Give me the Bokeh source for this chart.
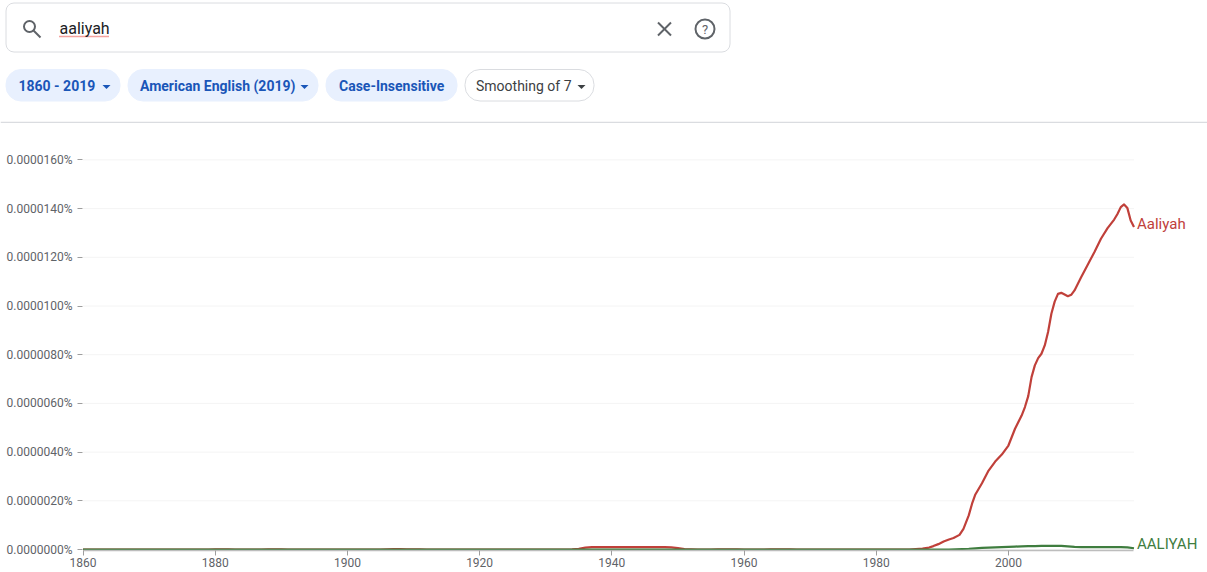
from bokeh.plotting import figure
from bokeh.layouts import column
from bokeh.models import BoxAnnotation, Label, FixedTicker, Range1d, Span
from bokeh.embed import file_html
from bokeh.resources import INLINE

# Values are in units of 0.000001 percent (1.0 = 0.0000010%)
years = list(range(1860, 2020))
aaliyah_early = [
    0.00,0.00,0.00,0.00,0.00,0.00,0.00,0.00,0.00,0.00,   # 1860s
    0.00,0.00,0.00,0.00,0.00,0.00,0.00,0.00,0.00,0.00,   # 1870s
    0.01,0.01,0.01,0.00,0.00,0.00,0.00,0.00,0.01,0.01,   # 1880s
    0.01,0.00,0.00,0.00,0.00,0.00,0.00,0.00,0.00,0.00,   # 1890s
    0.00,0.00,0.00,0.00,0.00,0.00,0.01,0.02,0.02,0.01,   # 1900s
    0.01,0.01,0.00,0.00,0.00,0.00,0.00,0.00,0.00,0.00,   # 1910s
    0.00,0.00,0.00,0.00,0.00,0.00,0.00,0.00,0.00,0.00,   # 1920s
    0.00,0.00,0.00,0.00,0.01,0.03,0.08,0.10,0.10,0.10,   # 1930s
    0.10,0.10,0.10,0.10,0.10,0.10,0.10,0.10,0.10,0.09,   # 1940s
    0.06,0.02,0.01,0.00,0.00,0.00,0.01,0.01,0.01,0.01,   # 1950s
    0.00,0.00,0.00,0.00,0.01,0.01,0.01,0.01,0.00,0.00,   # 1960s
    0.00,0.00,0.00,0.00,0.00,0.00,0.00,0.00,0.00,0.00,   # 1970s
    0.00,0.00,0.00,0.00,0.00,0.00,0.02,0.04,             # 1980-1987
]
aaliyah_recent_years = [
    1988, 1988.65, 1989.4, 1990.2, 1991, 1991.7, 1992.6, 1993.2, 1994, 1994.5, 1995, 1996, 1997,
    1998, 1999, 2000, 2001, 2002, 2002.5, 2003, 2003.5, 2004, 2004.5, 2005, 2005.5, 2006, 2006.5,
    2007, 2007.5, 2008, 2008.5, 2009, 2009.5, 2010, 2011, 2012, 2013, 2014, 2015, 2016, 2016.5,
    2017, 2017.5, 2018, 2018.5, 2019,
]
aaliyah_recent = [
    0.08, 0.14, 0.22, 0.33, 0.41, 0.47, 0.60, 0.85, 1.40, 1.88, 2.26, 2.72, 3.24,
    3.61, 3.90, 4.27, 4.96, 5.50, 5.85, 6.30, 7.08, 7.56, 7.86, 8.04, 8.38, 8.93, 9.68,
    10.18, 10.50, 10.54, 10.47, 10.40, 10.46, 10.64, 11.18, 11.69, 12.21, 12.76, 13.20, 13.55, 13.78,
    14.06, 14.17, 14.02, 13.51, 13.24,
]
aaliyah_upper = [
    0.00,0.00,0.00,0.00,0.00,0.00,0.00,0.00,0.00,0.00,
    0.00,0.00,0.00,0.00,0.00,0.00,0.00,0.00,0.00,0.00,
    0.00,0.00,0.00,0.00,0.00,0.00,0.00,0.00,0.00,0.00,
    0.00,0.00,0.00,0.00,0.00,0.00,0.00,0.00,0.00,0.00,
    0.00,0.00,0.00,0.00,0.00,0.00,0.00,0.00,0.00,0.00,
    0.00,0.00,0.00,0.00,0.00,0.00,0.00,0.00,0.00,0.00,
    0.00,0.00,0.00,0.00,0.00,0.00,0.00,0.00,0.00,0.00,
    0.00,0.00,0.00,0.00,0.00,0.00,0.00,0.00,0.00,0.00,
    0.00,0.00,0.00,0.00,0.00,0.00,0.00,0.00,0.00,0.00,
    0.00,0.00,0.00,0.00,0.00,0.00,0.00,0.00,0.00,0.00,
    0.00,0.00,0.00,0.00,0.00,0.00,0.00,0.00,0.00,0.00,
    0.00,0.00,0.00,0.00,0.00,0.00,0.00,0.00,0.00,0.00,
    0.00,0.00,0.00,0.00,0.00,0.00,0.00,0.00,0.00,0.00,
    0.00,0.00,0.01,0.02,0.03,0.05,0.07,0.08,0.09,0.10,
    0.11,0.12,0.13,0.14,0.14,0.15,0.15,0.15,0.15,0.13,
    0.11,0.10,0.10,0.10,0.10,0.10,0.10,0.10,0.09,0.05,
]
x_ticks = [1860, 1880, 1900, 1920, 1940, 1960, 1980, 2000]
y_ticks = [0, 2, 4, 6, 8, 10, 12, 14, 16]
y_labels = ["0.0000000%", "0.0000020%", "0.0000040%", "0.0000060%", "0.0000080%",
            "0.0000100%", "0.0000120%", "0.0000140%", "0.0000160%"]
query = "aaliyah"
chips = ["1860 - 2019", "American English (2019)", "Case-Insensitive", "Smoothing of 7"]

RED, GREEN, GREY = "#c0403a", "#3f7d3f", "#5f6368"
BLUE, DARK = "#1a56b8", "#3c4043"
FONT = "Roboto"

# ---- search chrome ----
top = figure(width=1207, height=123, output_backend="svg", toolbar_location=None,
             x_range=Range1d(0, 1207), y_range=Range1d(123, 0),
             min_border=0, outline_line_color=None)
top.axis.visible = False
top.grid.visible = False
top.frame_align = False

def box(l, r, t, b, fill, line, radius):
    top.add_layout(BoxAnnotation(left=l, right=r, top=t, bottom=b, fill_color=fill, fill_alpha=1,
                                 line_color=line, line_width=1, line_alpha=1, border_radius=radius,
                                 level="underlay"))

def label(x, y, text, size, color, align="left", style="normal"):
    top.add_layout(Label(x=x, y=y, text=text, text_font=FONT, text_font_size=size, text_color=color,
                         text_align=align, text_baseline="middle", text_font_style=style))

box(5.5, 729.5, 2.5, 51.5, "#ffffff", "#dadce0", 8)
top.circle(x=[29], y=[26], radius=5.5, fill_color=None, line_color=GREY, line_width=2)
top.line([33, 40], [30, 37], line_color=GREY, line_width=2)
label(59, 28, query, "16px", "#202124")
top.line([59, 109], [36, 36], line_color="#e8453c", line_width=1.5, line_dash="1 1")
top.line([657.5, 670.5], [22, 35], line_color=GREY, line_width=2)
top.line([657.5, 670.5], [35, 22], line_color=GREY, line_width=2)
top.circle(x=[704.5], y=[28.5], radius=9.5, fill_color=None, line_color=GREY, line_width=2)
label(704.5, 29, "?", "13px", GREY, "center")

spans = [(5.5, 119.5), (127.5, 317.5), (325.5, 456.5), (464.5, 593.5)]
text_x = [18, 139.5, 338.5, 475.5]
arrows = [106, 304, None, 581]
for i, name in enumerate(chips):
    l, r = spans[i]
    active = i < 3
    box(l, r, 69, 100.5, "#e8f0fe" if active else "#ffffff", "#e8f0fe" if active else "#dadce0", 15)
    label(text_x[i], 85, name, "14px", BLUE if active else DARK, style="bold" if active else "normal")
    if arrows[i] is not None:
        a = arrows[i]
        top.patch([a - 4, a + 4, a], [84.5, 84.5, 88.5], fill_color=BLUE if active else DARK, line_color=None)
top.add_layout(Span(location=122, dimension="width", line_color="#dadce0", line_width=1.5))

# ---- chart ----
p = figure(width=1207, height=449, output_backend="svg", toolbar_location=None,
           x_range=Range1d(1859.92, 2030.12), y_range=Range1d(-0.041, 16.386),
           min_border_left=82, min_border_right=0, min_border_top=27, min_border_bottom=22,
           outline_line_color=None)
p.frame_align = False
p.grid.visible = False
p.segment(x0=[years[0]] * len(y_ticks), x1=[years[-1]] * len(y_ticks), y0=y_ticks, y1=y_ticks,
          line_color="#f4f4f4", line_width=1, level="underlay")

p.xaxis.ticker = FixedTicker(ticks=x_ticks)
p.xaxis.bounds = (years[0], years[-1])
p.xaxis.axis_line_color = "#bdbdbd"
p.xaxis.axis_line_width = 1.5
p.xaxis.major_tick_in = 0
p.xaxis.major_tick_out = 5
p.xaxis.major_tick_line_color = "#9e9e9e"
p.xaxis.minor_tick_line_color = None
p.xaxis.major_label_standoff = 2
p.yaxis.ticker = FixedTicker(ticks=y_ticks)
p.yaxis.major_label_overrides = dict(zip(y_ticks, y_labels))
p.yaxis.axis_line_color = None
p.yaxis.major_tick_in = 0
p.yaxis.major_tick_out = 5
p.yaxis.major_tick_line_color = "#9e9e9e"
p.yaxis.minor_tick_line_color = None
p.yaxis.major_label_standoff = 5
for ax in (p.xaxis, p.yaxis):
    ax.major_label_text_font = FONT
    ax.major_label_text_font_size = "12px"
    ax.major_label_text_color = GREY

p.line(years[:len(aaliyah_early)] + aaliyah_recent_years, aaliyah_early + aaliyah_recent,
       line_color=RED, line_width=2.2, line_join="round")
p.line(years, aaliyah_upper, line_color=GREEN, line_width=2.2, line_join="round")

p.add_layout(Label(x=years[-1], y=aaliyah_recent[-1], x_offset=3, y_offset=3, text="Aaliyah",
                   text_font=FONT, text_font_size="15px", text_color=RED, text_baseline="middle"))
p.add_layout(Label(x=years[-1], y=aaliyah_upper[-1], x_offset=3, y_offset=4, text="AALIYAH",
                   text_font=FONT, text_font_size="15px", text_color=GREEN, text_baseline="middle"))

page = column(top, p, spacing=0)
open("out.html", "w").write(file_html(page, INLINE))
